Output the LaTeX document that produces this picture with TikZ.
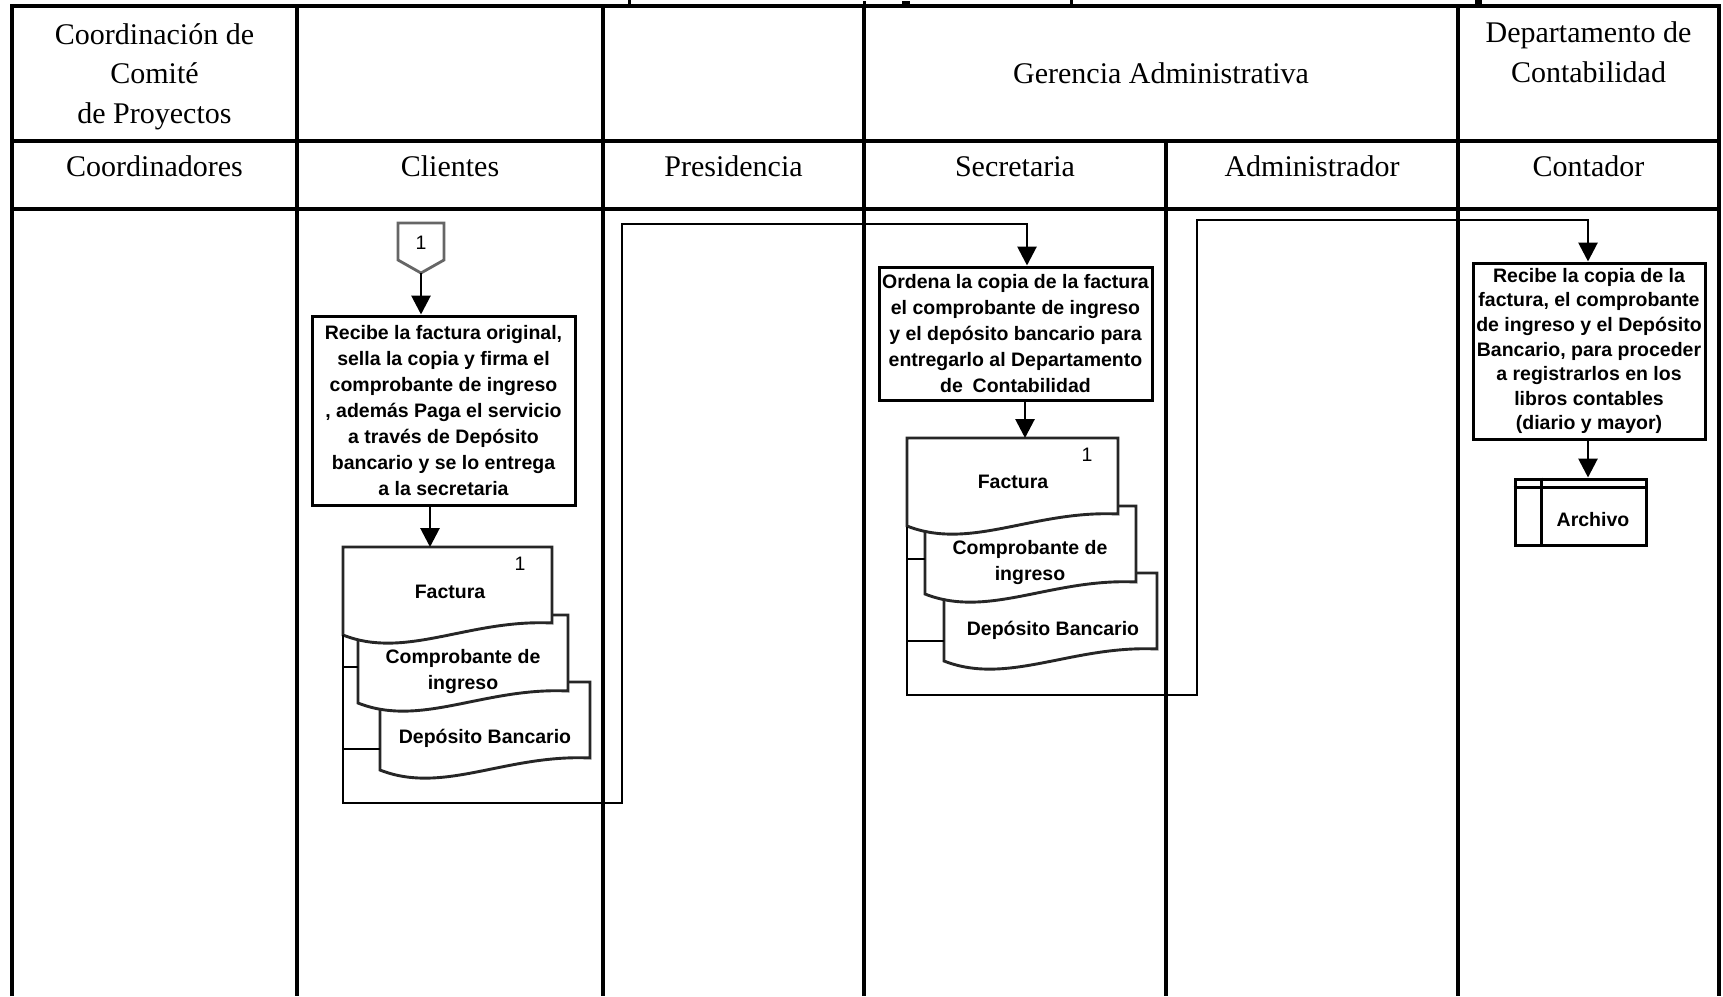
\documentclass[tikz,border=0pt]{standalone}
\usepackage{fontspec}
\setmainfont{Liberation Serif}
\newfontfamily\boxfont{Liberation Sans}
\usetikzlibrary{arrows.meta}

% document symbol: left x, right x, top y (wavy bottom, higher on the right)
\newcommand{\docbody}[3]{%
  \filldraw[doc] (#2,#3+76) -- (#2,#3) -- (#1,#3) -- (#1,#3+88)
    .. controls ({#1+0.3*(#2-#1)},#3+113) and ({#1+0.6*(#2-#1)},#3+72) .. (#2,#3+76) -- cycle;}

\begin{document}
\begin{tikzpicture}[x=1pt,y=-1pt,
  grid/.style={line width=3.2pt},
  head/.style={font=\fontsize{30}{39.5}\selectfont, align=center, inner sep=0pt},
  small/.style={font=\boxfont\bfseries\fontsize{19.5}{26}\selectfont, align=center, inner sep=0pt},
  proc/.style={small, draw, line width=3pt, fill=white},
  flow/.style={line width=2.9pt},
  arr/.style={flow, -{Triangle[width=19pt,length=19pt]}},
  doc/.style={draw=black!85, line width=2.9pt, fill=white}
]
\useasboundingbox (0,0) rectangle (1723,996);
\fill[white] (0,0) rectangle (1723,996);

% fragments of the title line above the frame
\fill (628,0) rectangle (631,5);
\fill (863,1) rectangle (866,5);
\fill (902,1) rectangle (910,5);
\fill (1070,0) rectangle (1073,5);
\fill (1475,0) rectangle (1482,5);

% swimlane frame
\draw[grid] (12,996) -- (12,6) -- (1719,6) -- (1719,996);
\draw[grid] (12,141) -- (1719,141);
\draw[grid, line width=4pt] (12,209) -- (1719,209);
\foreach \x in {297,603,864,1458} \draw[grid] (\x,6) -- (\x,996);
\draw[grid] (1166,141) -- (1166,996);

% headers
\node[head, anchor=north] (hcom) at (154.5,23) {Coordinación de\\Comité\\de Proyectos};
\node[head, anchor=base] (hger) at (1161,83.5) {Gerencia Administrativa};
\node[head, anchor=north] (hdep) at (1588.5,21.5) {Departamento de\\Contabilidad};

\node[head, anchor=base] (lcoo) at (154.5,176) {Coordinadores};
\node[head, anchor=base] (lcli) at (450,176) {Clientes};
\node[head, anchor=base] (lpre) at (733.5,176) {Presidencia};
\node[head, anchor=base] (lsec) at (1015,176) {Secretaria};
\node[head, anchor=base] (ladm) at (1312,176) {Administrador};
\node[head, anchor=base] (lcon) at (1588.5,176) {Contador};

% off-page connector 1
\filldraw[line width=2.8pt, draw=black!60, fill=white]
  (398,223) -- (444,223) -- (444,260) -- (421,273) -- (398,260) -- cycle;
\node[small, font=\boxfont\fontsize{19.5}{26}\selectfont] (c1) at (421,243) {1};
\coordinate (c1tip) at (421,273);

% Clientes
\node[proc, minimum width=263pt, minimum height=189pt] (box1) at (443.5,410.5)
  {Recibe la factura original,\\sella la copia y firma el\\comprobante de ingreso\\, además Paga el servicio\\a través de Depósito\\bancario y se lo entrega\\a la secretaria};

\docbody{380}{590}{682}
\node[small] (dep1) at (485,738) {Depósito Bancario};
\docbody{358}{568}{615}
\node[small] (com1) at (463,671) {Comprobante de\\ingreso};
\docbody{343}{552}{547}
\node[small] (fac1) at (450,592) {Factura};
\node[small, font=\boxfont\fontsize{19.5}{26}\selectfont] (n1a) at (520,564) {1};
\coordinate (f1top) at (430,547);
\coordinate (f1bl) at (343,635);
\draw[flow] (343,667) -- (358,667);
\draw[flow] (343,749) -- (380,749);

% Secretaria
\node[proc, minimum width=273pt, minimum height=133pt] (box2) at (1015.5,333.5)
  {Ordena la copia de la factura\\el comprobante de ingreso\\y el depósito bancario para\\entregarlo al Departamento\\de\enspace Contabilidad};

\docbody{944}{1157}{573}
\node[small] (dep2) at (1053,630) {Depósito Bancario};
\docbody{925}{1136}{506}
\node[small] (com2) at (1030,562) {Comprobante de\\ingreso};
\docbody{907}{1118}{438}
\node[small] (fac2) at (1013,482) {Factura};
\node[small, font=\boxfont\fontsize{19.5}{26}\selectfont] (n2a) at (1087,455) {1};
\coordinate (f2top) at (1025,438);
\coordinate (f2bl) at (907,527);
\draw[flow] (907,559) -- (925,559);
\draw[flow] (907,641) -- (944,641);

% Contador
\node[proc, minimum width=232pt, minimum height=176pt,
      font=\boxfont\bfseries\fontsize{19.5}{24.6}\selectfont] (box3) at (1589,351)
  {Recibe la copia de la\\factura, el comprobante\\de ingreso y el Depósito\\Bancario, para proceder\\a registrarlos en los\\libros contables\\(diario y mayor)};

\node[draw, line width=3pt, minimum width=131pt, minimum height=66pt, inner sep=0pt] (arch) at (1580.5,512) {};
\draw[line width=3pt] ([yshift=-10pt]arch.north west) -- ([yshift=-10pt]arch.north east);
\draw[line width=3pt] ([xshift=28pt]arch.north west) -- ([xshift=28pt]arch.south west);
\node[small] (archt) at (1593,520) {Archivo};

% connectors
\coordinate (j1) at (622,803);
\coordinate (j2) at (1027,224);
\coordinate (j3) at (1197,695);
\coordinate (j4) at (1588,220);

\draw[arr] (c1tip) -- (c1tip |- box1.north);
\draw[arr] (box1.south -| f1top) -- (f1top);
\draw[arr] (f1bl) |- (j1) |- (j2) -- (j2 |- box2.north);
\draw[arr] (box2.south -| f2top) -- (f2top);
\draw[arr] (f2bl) |- (j3) |- (j4) -- (j4 |- box3.north);
\draw[arr] (box3.south -| j4) -- (j4 |- arch.north);
\end{tikzpicture}
\end{document}
